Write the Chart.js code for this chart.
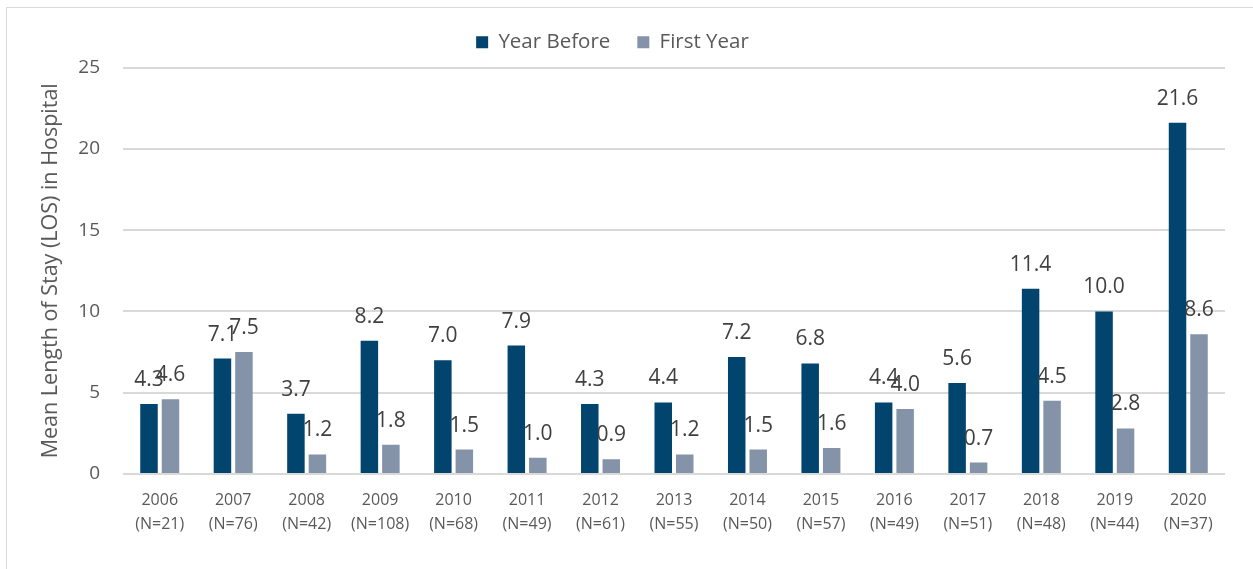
<!DOCTYPE html>
<html>

<head>
    <title>Mean LOS chart</title>
    <script src="https://cdn.jsdelivr.net/npm/chart.js"></script>
    <style>
        body { margin: 0; background: #fff; overflow: hidden; }
        #frame { position: absolute; left: 6px; top: 7px; width: 1270px; height: 600px; border: 1px solid #d9d9d9; box-sizing: border-box; }
        #wrap { position: absolute; left: 0; top: 0; width: 1253px; height: 569px; }
    </style>
</head>

<body>
    <div id="frame"></div>
    <div id="wrap"><canvas id="chart" width="1253" height="569"></canvas></div>
    <script>
        // values
        const years = ['2006', '2007', '2008', '2009', '2010', '2011', '2012', '2013', '2014', '2015', '2016', '2017', '2018', '2019', '2020'];
        const counts = [21, 76, 42, 108, 68, 49, 61, 55, 50, 57, 49, 51, 48, 44, 37];
        const yearBefore = [4.3, 7.1, 3.7, 8.2, 7.0, 7.9, 4.3, 4.4, 7.2, 6.8, 4.4, 5.6, 11.4, 10.0, 21.6];
        const firstYear = [4.6, 7.5, 1.2, 1.8, 1.5, 1.0, 0.9, 1.2, 1.5, 1.6, 4.0, 0.7, 4.5, 2.8, 8.6];

        const FONT = "'Open Sans', sans-serif";
        const labels = years.map((y, i) => [y, '(N=' + counts[i] + ')']);

        // draw the value above each bar
        const valueLabels = {
            id: 'valueLabels',
            afterDatasetsDraw(chart) {
                const ctx = chart.ctx;
                ctx.save();
                ctx.font = '21px ' + FONT;
                ctx.fillStyle = '#404040';
                ctx.textAlign = 'center';
                ctx.textBaseline = 'alphabetic';
                chart.data.datasets.forEach((ds, i) => {
                    chart.getDatasetMeta(i).data.forEach((bar, j) => {
                        ctx.fillText(ds.data[j].toFixed(1), bar.x, bar.y - 18);
                    });
                });
                ctx.restore();
            }
        };

        // a little empty room between the legend and the plot
        const legendGap = {
            id: 'legendGap',
            beforeInit(chart) {
                Chart.layouts.addBox(chart, {
                    position: 'top', weight: 0, fullSize: false, options: {},
                    isHorizontal() { return true; },
                    update(w) { this.width = w; this.height = 5; },
                    draw() {}
                });
            }
        };

        new Chart(document.getElementById('chart'), {
            type: 'bar',
            data: {
                labels: labels,
                datasets: [{
                    label: 'Year Before',
                    data: yearBefore,
                    backgroundColor: '#01446e',
                    categoryPercentage: 0.585,
                    barPercentage: 0.814
                }, {
                    label: 'First Year',
                    data: firstYear,
                    backgroundColor: '#8493a8',
                    categoryPercentage: 0.585,
                    barPercentage: 0.814
                }]
            },
            options: {
                responsive: false,
                animation: false,
                layout: { padding: { top: 5, right: 28, bottom: 0, left: 0 } },
                plugins: {
                    legend: {
                        position: 'top',
                        labels: {
                            boxWidth: 12, boxHeight: 12, padding: 27,
                            color: '#595959', font: { family: FONT, size: 20.5 }
                        }
                    },
                    tooltip: { enabled: false }
                },
                scales: {
                    x: {
                        grid: { display: false },
                        border: { display: false },
                        ticks: { color: '#595959', font: { family: FONT, size: 16, lineHeight: 1.5 }, padding: 6 },
                        afterFit(scale) { scale.height = 95; }
                    },
                    y: {
                        min: 0, max: 25,
                        ticks: { stepSize: 5, color: '#595959', font: { family: FONT, size: 19 }, padding: 23 },
                        grid: { color: '#d9d9d9', lineWidth: 2, drawTicks: false },
                        border: { display: false },
                        title: {
                            display: true,
                            text: 'Mean Length of Stay (LOS) in Hospital',
                            color: '#595959',
                            font: { family: FONT, size: 21.5, weight: 'normal' },
                            padding: { top: 38, bottom: 0 }
                        },
                        afterFit(scale) { scale.width = 123; }
                    }
                }
            },
            plugins: [valueLabels, legendGap]
        });
    </script>

</body>

</html>
